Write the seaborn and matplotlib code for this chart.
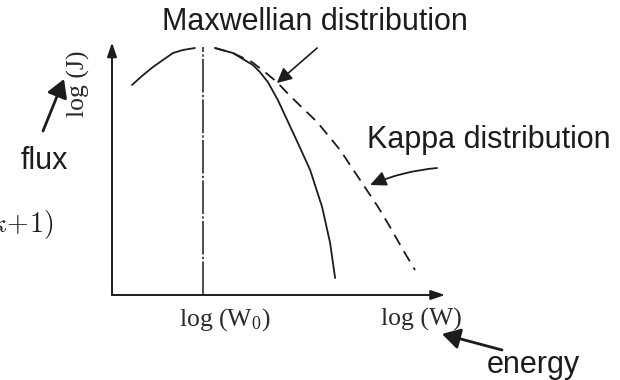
import matplotlib
matplotlib.use("Agg")
import matplotlib.pyplot as plt
import seaborn as sns
import pandas as pd
from matplotlib.text import Annotation

# Maxwellian spectrum, drawn as two branches either side of the peak energy
maxwell_left_logw = [0.60, 0.90, 1.23, 1.53, 1.83, 2.13, 2.49]
maxwell_left_logj = [8.40, 8.76, 9.12, 9.40, 9.68, 9.80, 9.88]
maxwell_right_logw = [3.09, 3.63, 4.23, 4.44, 4.68, 4.98, 5.26, 5.65, 5.95, 6.31, 6.55, 6.70]
maxwell_right_logj = [9.88, 9.68, 9.20, 8.92, 8.52, 7.80, 7.00, 5.88, 5.00, 3.52, 2.08, 0.68]

# Kappa spectrum: same core, power-law high-energy tail
kappa_logw = [3.09, 3.63, 4.20, 4.59, 4.95, 5.35, 6.16, 6.85, 7.45, 7.99, 8.35, 8.74, 9.10]
kappa_logj = [9.88, 9.68, 9.32, 8.92, 8.52, 7.96, 6.92, 5.80, 4.60, 3.52, 2.72, 1.80, 1.00]

# peak energy W0 and peak flux
peak_logw = 2.73
peak_logj = 9.92

x_label_w0 = "log (W$_0$)"
x_label_w = "log (W)"
y_label = "log (J)"
tail_exponent = r"$\kappa\!+\!1)$"

sns.set_style("white")
plt.rcParams["mathtext.fontset"] = "custom"
plt.rcParams["mathtext.rm"] = "Liberation Serif"
plt.rcParams["mathtext.it"] = "Liberation Serif:italic"

INK = "#1c1c1c"
SANS = ["Liberation Sans", "DejaVu Sans"]
SERIF = ["Liberation Serif", "DejaVu Serif"]

W, H = 620, 380
fig = plt.figure(figsize=(W / 100, H / 100), dpi=100)
ax = fig.add_axes([112 / W, 85 / H, 333 / W, 250 / H])
ax.set_xlim(0, 10)
ax.set_ylim(0, 10)
ax.set_axis_off()

maxwell = pd.DataFrame({
    "logw": maxwell_left_logw + maxwell_right_logw,
    "logj": maxwell_left_logj + maxwell_right_logj,
    "branch": ["left"] * len(maxwell_left_logw) + ["right"] * len(maxwell_right_logw),
})
kappa = pd.DataFrame({"logw": kappa_logw, "logj": kappa_logj})

sns.lineplot(data=maxwell, x="logw", y="logj", units="branch", estimator=None,
             sort=False, color=INK, lw=1.3, ax=ax)
sns.lineplot(data=kappa, x="logw", y="logj", estimator=None, sort=False,
             color=INK, lw=1.3, ax=ax)
ax.lines[-1].set_dashes((6.5, 4))
for ln in ax.lines:
    ln.set_solid_joinstyle("round")

# peak-energy marker
ax.plot([peak_logw, peak_logw], [0, peak_logj], color=INK, lw=1.1,
        dashes=(22, 1.5, 1.5, 1.5), solid_capstyle="butt")

# coordinate axes with arrowheads
axis_arrow = dict(arrowstyle="-|>,head_length=0.5,head_width=0.17", lw=1.4,
                  color=INK, mutation_scale=17, shrinkA=0, shrinkB=0)
ax.annotate("", xy=(1.0, 0.0), xytext=(0.0, 0.0), xycoords="axes fraction",
            arrowprops=axis_arrow)
ax.annotate("", xy=(0.0, 1.01), xytext=(0.0, 0.0), xycoords="axes fraction",
            arrowprops=axis_arrow)

# pointers to the two curves
ax.annotate("", xy=(4.95, 8.48), xytext=(6.16, 9.88),
            arrowprops=dict(arrowstyle="-|>,head_length=0.6,head_width=0.3",
                            lw=1.2, color=INK, mutation_scale=15,
                            shrinkA=0, shrinkB=0))
ax.annotate("", xy=(7.75, 4.40), xytext=(9.76, 5.08),
            arrowprops=dict(arrowstyle="-|>,head_length=0.6,head_width=0.28",
                            lw=1.3, color=INK, mutation_scale=16,
                            shrinkA=0, shrinkB=0,
                            connectionstyle="arc3,rad=0.08"))

# pointers to the axis quantities
big_arrow = dict(arrowstyle="-|>,head_length=0.6,head_width=0.35", lw=2.0,
                 color=INK, mutation_scale=18, shrinkA=0, shrinkB=0)
fig.add_artist(Annotation("", xy=(64, H - 79), xytext=(43, H - 131),
                          xycoords="figure pixels", arrowprops=big_arrow))
fig.add_artist(Annotation("", xy=(442, H - 334), xytext=(502, H - 350),
                          xycoords="figure pixels", arrowprops=big_arrow))

# labels
sans_kw = dict(family=SANS, fontsize=22, color=INK, va="baseline", ha="left")
fig.text(162 / W, 1 - 30 / H, "Maxwellian distribution", **sans_kw)
fig.text(367 / W, 1 - 148 / H, "Kappa distribution", **sans_kw)
fig.text(21 / W, 1 - 169 / H, "flux", **sans_kw)
fig.text(487 / W, 1 - 373 / H, "energy", **sans_kw)

serif_kw = dict(family=SERIF, fontsize=18.5, color="#2a2a2a")
fig.text(179 / W, 1 - 326 / H, x_label_w0, ha="left", va="baseline", **serif_kw)
fig.text(381 / W, 1 - 326 / H, x_label_w, ha="left", va="baseline", **serif_kw)
fig.text(78 / W, 1 - 84 / H, y_label, ha="center", va="center", rotation=90,
         **serif_kw)
fig.text(53 / W, 1 - 232 / H, tail_exponent, ha="right", va="baseline",
         fontsize=20, color=INK, math_fontfamily="cm")

fig.savefig("out.png", dpi=100, facecolor="white")
